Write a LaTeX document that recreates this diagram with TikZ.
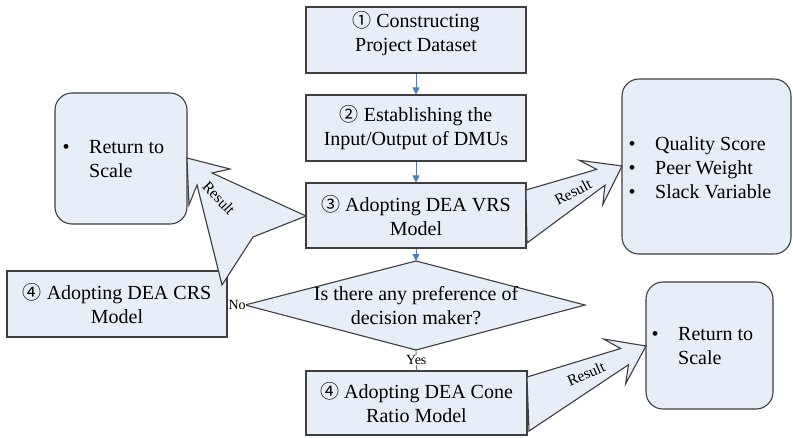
\documentclass[tikz,border=0pt]{standalone}
\usepackage{fontspec}
\setmainfont{Liberation Serif}
\newfontfamily\circfont{Noto Sans CJK SC}
\usetikzlibrary{arrows.meta}
\definecolor{boxfill}{RGB}{232,238,248}
\definecolor{edgegray}{RGB}{62,62,62}
\definecolor{flowblue}{RGB}{74,126,200}
\newcommand{\cnum}[1]{{\circfont\fontsize{19}{19}\selectfont #1}}
\newcommand{\bitem}[1]{\makebox[26.5pt][l]{\textbullet}#1}

\begin{document}
\begin{tikzpicture}[x=1pt,y=-1pt,
  box/.style={draw=edgegray, fill=boxfill, line width=1.1pt,
    minimum width=220pt, minimum height=66pt, inner sep=0pt,
    align=center, font=\fontsize{20}{24}\selectfont},
  rbox/.style={draw=edgegray, fill=boxfill, line width=1.1pt,
    rounded corners=17pt},
  listtxt/.style={anchor=west, inner sep=0pt, align=left,
    font=\fontsize{20}{24}\selectfont},
  plaintxt/.style={inner sep=0pt, align=center,
    font=\fontsize{20}{24}\selectfont},
  flow/.style={draw=flowblue, line width=0.9pt,
    -{Triangle[length=7pt,width=7pt]}},
  decision/.style={draw=edgegray, fill=boxfill, line width=1.1pt},
  resultarrow/.style={draw=edgegray, fill=boxfill, line width=1.1pt,
    line join=miter},
  smalllabel/.style={inner sep=0.5pt, font=\fontsize{14}{14}\selectfont},
  resultlabel/.style={inner sep=0pt, font=\fontsize{15.5}{15.5}\selectfont}]

\useasboundingbox (0,0) rectangle (793,437);
\fill[white] (0,0) rectangle (793,437);

% main column
\node[box] (b1) at (416,40) {};
\node[plaintxt] (b1t) at (416,33.5) {\cnum{①} Constructing\\Project Dataset};
\node[box] (b2) at (416,128) {\cnum{②} Establishing the\\Input/Output of DMUs};
\node[box, minimum height=65pt] (b3) at (416,215.5) {\cnum{③} Adopting DEA VRS\\Model};

% decision diamond
\coordinate (dt) at (416,261);
\coordinate (dr) at (585,305);
\coordinate (db) at (416,350);
\coordinate (dl) at (245,305);
\path[decision] (dt) -- (dr) -- (db) -- (dl) -- cycle;
\node[plaintxt] (dq) at (416,306) {Is there any preference of\\decision maker?};

% alternatives
\node[box] (crs) at (117,304) {\cnum{④} Adopting DEA CRS\\Model};
\node[box, minimum width=221pt, minimum height=64pt] (cone) at (416.5,403)
  {\cnum{④} Adopting DEA Cone\\Ratio Model};

% result boxes
\node[rbox, minimum width=132pt, minimum height=131pt] (rtsA) at (121,158.5) {};
\node[listtxt] (rtsAt) at (62.5,159.2) {\bitem{Return to}\\\hspace{26.5pt}Scale};
\node[rbox, minimum width=169pt, minimum height=175pt] (qual) at (706.5,166.5) {};
\node[listtxt] (qualt) at (628.5,167.7)
  {\bitem{Quality Score}\\\bitem{Peer Weight}\\\bitem{Slack Variable}};
\node[rbox, minimum width=127pt, minimum height=127pt] (rtsB) at (709.5,345.5) {};
\node[listtxt] (rtsBt) at (651.5,345.7) {\bitem{Return to}\\\hspace{26.5pt}Scale};

% flow connectors
\draw[flow] (b1) -- (b2);
\draw[flow] (b2) -- (b3);
\draw[flow] (b3.south) -- (dt);
\draw[draw=flowblue, line width=0.9pt] (db) -- node[smalllabel, fill=white] (yes) {Yes} (cone.north);
\draw[draw=flowblue, line width=0.9pt] (dl) -- node[smalllabel, fill=white, pos=0.45] (no) {No} (crs.east);

% result block arrows
\path[resultarrow] (306,216) -- (212,173) -- (230,169) -- (187,158)
  -- (189,205) -- (197,185) -- (222,285) -- (253,237) -- cycle;
\path[resultarrow] (526,190) -- (596.6,169.4) -- (579.4,160.3) -- (622,166)
  -- (602.8,204.5) -- (605,185.2) -- (527,243) -- cycle;
\path[resultarrow] (527,377) -- (620.5,348.5) -- (603.6,339) -- (646,346)
  -- (625.6,383.8) -- (628.5,364.7) -- (529,431) -- cycle;

\node[resultlabel, rotate=-47] (resA) at (219,198) {Result};
\node[resultlabel, rotate=28] (resB) at (573,192) {Result};
\node[resultlabel, rotate=24] (resC) at (586,374) {Result};
\end{tikzpicture}
\end{document}
